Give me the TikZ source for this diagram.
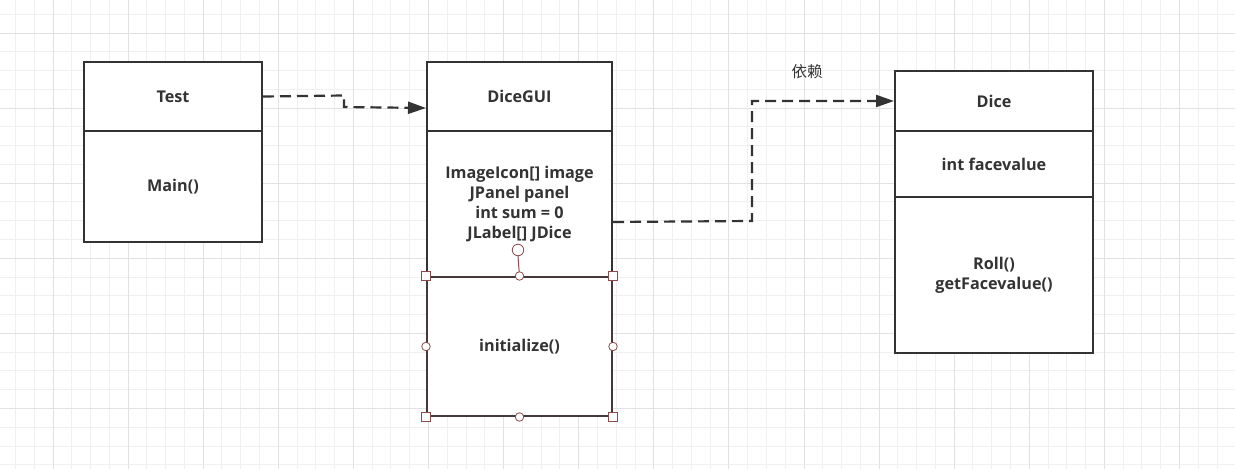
\documentclass[tikz,border=0pt]{standalone}
\usepackage{fontspec}
\setmainfont{Open Sans}
\newfontfamily\cjk{Noto Sans CJK SC}
\usetikzlibrary{arrows.meta,calc}
\definecolor{ink}{HTML}{333333}
\definecolor{gridminor}{HTML}{F0F0F0}
\definecolor{gridmajor}{HTML}{E2E2E2}
\definecolor{handle}{HTML}{8E4A4A}
\tikzset{
  comp/.style={draw=ink, line width=2pt, fill=white, anchor=north west, inner sep=0pt,
    align=center, font=\bfseries\fontsize{16.2}{20}\selectfont, text=ink},
  dep/.style={draw=ink, line width=2.2pt, dash pattern=on 11pt off 6pt,
    -{Triangle[length=18pt,width=12pt]}},
  sqhandle/.style={draw=handle, fill=white, line width=0.8pt, minimum size=9pt, inner sep=0pt, rectangle},
  cihandle/.style={draw=handle, fill=white, line width=0.8pt, minimum size=8.5pt, inner sep=0pt, circle},
}
\begin{document}
\begin{tikzpicture}[x=1pt,y=-1pt]
\useasboundingbox (0,0) rectangle (1235,469);
\fill[white] (0,0) rectangle (1235,469);
% grid
\foreach \k in {-2,...,64} {
  \pgfmathsetmacro\gx{53+\k*18.775}
  \draw[gridminor, line width=1pt] (\gx,0) -- (\gx,469);
}
\foreach \k in {-1,...,24} {
  \pgfmathsetmacro\gy{33+\k*18.775}
  \draw[gridminor, line width=1pt] (0,\gy) -- (1235,\gy);
}
\foreach \k in {0,...,16} {
  \pgfmathsetmacro\gx{53+\k*75.1}
  \draw[gridmajor, line width=1pt] (\gx,0) -- (\gx,469);
}
\foreach \k in {0,...,6} {
  \pgfmathsetmacro\gy{33+\k*75.1}
  \draw[gridmajor, line width=1pt] (0,\gy) -- (1235,\gy);
}
% Test
\node[comp, minimum width=178pt, minimum height=69pt] (testT) at (83,61) {Test};
\node[comp, minimum width=178pt, minimum height=111pt] (testM) at (83,130) {Main()};
% DiceGUI
\node[comp, minimum width=185pt, minimum height=69pt] (guiT) at (426,61) {DiceGUI};
\node[comp, minimum width=185pt, minimum height=146pt] (guiA) at (426,130) {ImageIcon[] image\\JPanel panel\\int sum = 0\\JLabel[] JDice};
\node[comp, minimum width=185pt, minimum height=139pt, draw=ink!80!handle] (guiM) at (426,276) {initialize()};
% Dice
\node[comp, minimum width=198pt, minimum height=60pt] (diceT) at (894,70) {Dice};
\node[comp, minimum width=198pt, minimum height=66pt] (diceA) at (894,130) {int facevalue};
\node[comp, minimum width=198pt, minimum height=156pt] (diceM) at (894,196) {Roll()\\getFacevalue()};
% connectors
\coordinate (b1) at (344,95.5);
\coordinate (b2) at (344,107);
\draw[dep] (testT.east) -- (b1) -- (b2) -- ($(guiT.west)+(0,11.5)$);
\coordinate (c1) at (752,221);
\draw[dep] ($(guiA.east)+(0,18)$) -- (c1) |- (diceT.west);
\node[font=\cjk\fontsize{15.5}{17}\selectfont, text=ink] (lbl) at (807,72) {依赖};
% selection handles
\node[cihandle, minimum size=11.5pt] (rot) at (518,250) {};
\draw[handle, line width=1pt] (rot.south) -- (guiM.north);
\node[sqhandle] (h1) at (guiM.north west) {};
\node[sqhandle] (h2) at (guiM.north east) {};
\node[sqhandle] (h3) at (guiM.south west) {};
\node[sqhandle] (h4) at (guiM.south east) {};
\node[cihandle] (h5) at (guiM.north) {};
\node[cihandle] (h6) at (guiM.south) {};
\node[cihandle] (h7) at (guiM.west) {};
\node[cihandle] (h8) at (guiM.east) {};
\end{tikzpicture}
\end{document}
